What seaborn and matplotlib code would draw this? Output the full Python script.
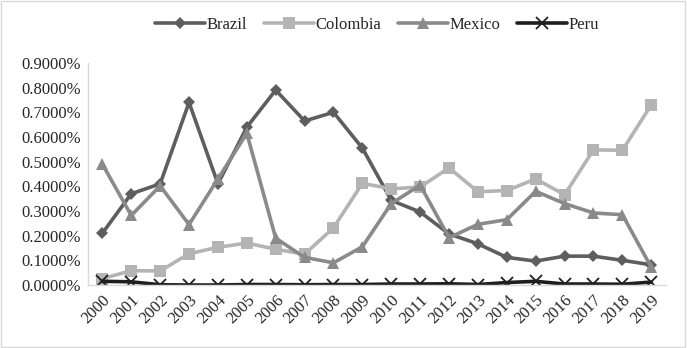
import pandas as pd
import seaborn as sns
import matplotlib.pyplot as plt
from matplotlib.ticker import FuncFormatter

# values (percent)
years = list(range(2000, 2020))
brazil = [0.21, 0.37, 0.41, 0.74, 0.41, 0.64, 0.79, 0.665, 0.70, 0.555, 0.343, 0.296,
          0.207, 0.167, 0.112, 0.097, 0.117, 0.117, 0.100, 0.082]
colombia = [0.026, 0.058, 0.057, 0.127, 0.153, 0.170, 0.145, 0.125, 0.232, 0.412, 0.390, 0.397,
            0.475, 0.378, 0.383, 0.430, 0.366, 0.548, 0.546, 0.730]
mexico = [0.490, 0.282, 0.402, 0.245, 0.430, 0.615, 0.190, 0.112, 0.090, 0.155, 0.330, 0.405,
          0.192, 0.246, 0.265, 0.380, 0.330, 0.292, 0.285, 0.072]
peru = [0.015, 0.013, 0.001, 0.0, 0.0, 0.002, 0.002, 0.001, 0.002, 0.002, 0.004, 0.004,
        0.005, 0.002, 0.010, 0.015, 0.004, 0.004, 0.003, 0.012]

series = {"Brazil": brazil, "Colombia": colombia, "Mexico": mexico, "Peru": peru}
colors = {"Brazil": "#5e5e5e", "Colombia": "#b4b4b4", "Mexico": "#8a8a8a", "Peru": "#1e1e1e"}
markers = {"Brazil": "D", "Colombia": "s", "Mexico": "^", "Peru": "x"}
msize = {"Brazil": 6.5, "Colombia": 8, "Mexico": 8.5, "Peru": 8}

df = pd.DataFrame({"Year": years, **series}).melt(id_vars="Year", var_name="Country", value_name="Value")

sns.set_style("white")
plt.rcParams["font.family"] = ["Liberation Serif", "DejaVu Serif"]

fig = plt.figure(figsize=(6.87, 3.48), dpi=100)
ax = fig.add_axes([0.128, 0.181, 0.841, 0.638])

for name in series:
    d = df[df["Country"] == name]
    sns.lineplot(data=d, x="Year", y="Value", ax=ax, color=colors[name], marker=markers[name],
                 markersize=msize[name], markeredgecolor=colors[name], markeredgewidth=1.3 if name == "Peru" else 0,
                 linewidth=2.6, label=name)

ax.set_xlim(1999.5, 2019.5)
ax.set_ylim(0, 0.9)
ax.set_yticks([i / 10 for i in range(10)])
ax.yaxis.set_major_formatter(FuncFormatter(lambda v, p: f"{v:.4f}%"))
ax.set_xticks(years)
ax.set_xticklabels([str(y) for y in years], rotation=45, ha="right", rotation_mode="anchor")
ax.tick_params(axis="both", labelsize=12, length=0, pad=5)
ax.set_xlabel("")
ax.set_ylabel("")
for s in ["top", "right"]:
    ax.spines[s].set_visible(False)
for s in ["left", "bottom"]:
    ax.spines[s].set_color("#d9d9d9")
    ax.spines[s].set_linewidth(1)

ax.legend(loc="center", bbox_to_anchor=(0.5, 1.17), ncol=4, frameon=False, fontsize=12,
          handlelength=3.0, columnspacing=1.0, handletextpad=0.1)

fig.patches.append(plt.Rectangle((0.002, 0.003), 0.995, 0.994, transform=fig.transFigure,
                                 fill=False, edgecolor="#d9d9d9", linewidth=1))

fig.savefig("out.png", dpi=100)
